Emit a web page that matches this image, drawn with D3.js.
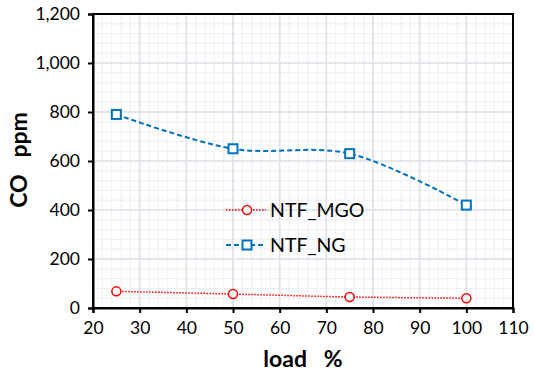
<!DOCTYPE html>
<html>
<head>
<meta charset="utf-8">
<script src="https://d3js.org/d3.v7.min.js"></script>
<style>
  body { margin: 0; background: #fff; }
  text { font-family: Lato, "Open Sans", sans-serif; }
</style>
</head>
<body>
<div id="chart"></div>
<script>
var width = 535,
    height = 375;

// data
var loads = [25, 50, 75, 100];
var mgoValues = [68, 57, 45, 40];
var ngValues = [790, 650, 630, 420];
var seriesNames = ["NTF_MGO", "NTF_NG"];
var xTicks = [20, 30, 40, 50, 60, 70, 80, 90, 100, 110];
var yTicks = [0, 200, 400, 600, 800, 1000, 1200];

var margin = {top: 14, right: 22, bottom: 67, left: 93};
var plotW = width - margin.left - margin.right,
    plotH = height - margin.top - margin.bottom;

var svg = d3.select("#chart").append("svg")
    .attr("width", width)
    .attr("height", height);

var g = svg.append("g")
    .attr("transform", "translate(" + margin.left + "," + margin.top + ")");

var x = d3.scaleLinear().domain([20, 110]).range([0, plotW]);
var y = d3.scaleLinear().domain([0, 1200]).range([plotH, 0]);

// minor grid
g.append("g").selectAll("line")
    .data(d3.range(20, 110.01, 2))
    .enter().append("line")
      .attr("x1", function(d) { return x(d); })
      .attr("x2", function(d) { return x(d); })
      .attr("y1", 0).attr("y2", plotH)
      .attr("stroke", "#eef1f5").attr("stroke-width", 1.2);
g.append("g").selectAll("line")
    .data(d3.range(0, 1200.01, 40))
    .enter().append("line")
      .attr("y1", function(d) { return y(d); })
      .attr("y2", function(d) { return y(d); })
      .attr("x1", 0).attr("x2", plotW)
      .attr("stroke", "#eef1f5").attr("stroke-width", 1.2);

// major grid
g.append("g").selectAll("line")
    .data(xTicks)
    .enter().append("line")
      .attr("x1", function(d) { return x(d); })
      .attr("x2", function(d) { return x(d); })
      .attr("y1", 0).attr("y2", plotH)
      .attr("stroke", "#dde1e8").attr("stroke-width", 1.6);
g.append("g").selectAll("line")
    .data(yTicks)
    .enter().append("line")
      .attr("y1", function(d) { return y(d); })
      .attr("y2", function(d) { return y(d); })
      .attr("x1", 0).attr("x2", plotW)
      .attr("stroke", "#dde1e8").attr("stroke-width", 1.6);

// frame
g.append("rect")
    .attr("width", plotW).attr("height", plotH)
    .attr("fill", "none").attr("stroke", "#000").attr("stroke-width", 2);

var xAxis = g.append("g")
    .attr("transform", "translate(0," + plotH + ")")
    .call(d3.axisBottom(x).tickValues(xTicks).tickSize(5).tickPadding(9));
var yAxis = g.append("g")
    .call(d3.axisLeft(y).tickValues(yTicks).tickSize(5).tickPadding(8).tickFormat(d3.format(",")));

[xAxis, yAxis].forEach(function(a) {
  a.select(".domain").attr("stroke-width", 2);
  a.selectAll(".tick line").attr("stroke-width", 2);
  a.selectAll("text").style("font-size", "17.5px").attr("fill", "#000");
});

var line = d3.line()
    .x(function(d) { return x(d[0]); })
    .y(function(d) { return y(d[1]); })
    .curve(d3.curveCatmullRom.alpha(0.5));

var mgo = d3.zip(loads, mgoValues);
var ng = d3.zip(loads, ngValues);

g.append("path").datum(mgo)
    .attr("d", line).attr("fill", "none")
    .attr("stroke", "#ff0000").attr("stroke-width", 1.5)
    .attr("stroke-dasharray", "1.5,1.5");
g.append("path").datum(ng)
    .attr("d", line).attr("fill", "none")
    .attr("stroke", "#0070c0").attr("stroke-width", 2)
    .attr("stroke-dasharray", "5,3");

g.selectAll(".mgo").data(mgo).enter().append("circle")
    .attr("class", "mgo")
    .attr("cx", function(d) { return x(d[0]); })
    .attr("cy", function(d) { return y(d[1]); })
    .attr("r", 4.5)
    .attr("fill", "#fff").attr("stroke", "#ff0000").attr("stroke-width", 1.5);
g.selectAll(".ng").data(ng).enter().append("rect")
    .attr("class", "ng")
    .attr("x", function(d) { return x(d[0]) - 4.5; })
    .attr("y", function(d) { return y(d[1]) - 4.5; })
    .attr("width", 9).attr("height", 9)
    .attr("fill", "#fff").attr("stroke", "#0070c0").attr("stroke-width", 2);

// legend
var legend = svg.append("g").attr("transform", "translate(226,210)");
var legItems = legend.selectAll("g").data(seriesNames).enter().append("g")
    .attr("transform", function(d, i) { return "translate(0," + (i * 35) + ")"; });
legItems.append("line")
    .attr("x1", 0).attr("x2", 40)
    .attr("stroke", function(d, i) { return i ? "#0070c0" : "#ff0000"; })
    .attr("stroke-width", function(d, i) { return i ? 2 : 1.5; })
    .attr("stroke-dasharray", function(d, i) { return i ? "5,3" : "1.5,1.5"; });
legItems.each(function(d, i) {
  var s = d3.select(this);
  if (i) {
    s.append("rect").attr("x", 16.5).attr("y", -4.5).attr("width", 9).attr("height", 9)
      .attr("fill", "#fff").attr("stroke", "#0070c0").attr("stroke-width", 2);
  } else {
    s.append("circle").attr("cx", 21).attr("r", 4.5)
      .attr("fill", "#fff").attr("stroke", "#ff0000").attr("stroke-width", 1.5);
  }
});
legItems.append("text")
    .attr("x", 44).attr("dy", "0.35em")
    .style("font-size", "19.5px")
    .text(function(d) { return d; });

// axis titles
svg.append("text")
    .attr("x", margin.left + x(65)).attr("y", 367)
    .attr("text-anchor", "middle")
    .style("font-size", "23px").style("font-weight", "bold")
    .attr("xml:space", "preserve")
    .text("load   %");
svg.append("text")
    .attr("transform", "translate(27,160) rotate(-90)")
    .attr("text-anchor", "middle")
    .style("font-size", "23px").style("font-weight", "bold")
    .attr("xml:space", "preserve")
    .text("CO   ppm");
</script>
</body>
</html>
